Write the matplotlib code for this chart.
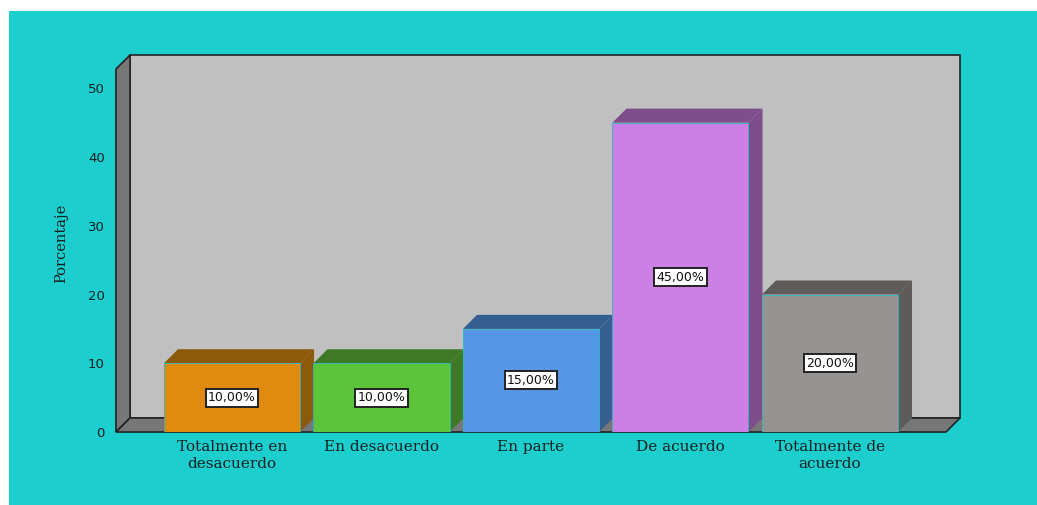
import matplotlib.pyplot as plt
from matplotlib.patches import Polygon, Rectangle

# datos
categorias = ['Totalmente en\ndesacuerdo', 'En desacuerdo', 'En parte',
              'De acuerdo', 'Totalmente de\nacuerdo']
porcentajes = [10, 10, 15, 45, 20]
etiquetas = ['10,00%', '10,00%', '15,00%', '45,00%', '20,00%']
colores = ['#e08a10', '#5cc43a', '#5596e6', '#cc80e6', '#979390']
colores_osc = ['#8c5a0a', '#3e7a25', '#355f90', '#7e4e8c', '#5e5c5a']
yticks = [0, 10, 20, 30, 40, 50]

fondo = '#1ccece'
ancho = 0.91
dx, dy = 0.094, 2.04          # profundidad 3D en unidades de datos
x0, x1 = -0.776, 4.776        # bordes frontales de la pared
ytop = 52.8

fig = plt.figure(figsize=(10.37, 5.05), dpi=100)
fig.patch.set_facecolor('white')
fig.patches.append(Rectangle((9 / 1037, 0), 1, (505 - 11) / 505,
                             transform=fig.transFigure, facecolor=fondo,
                             edgecolor='none', zorder=-5))

ax = fig.add_axes([116 / 1037, (505 - 432) / 505, 844 / 1037, 377 / 505])
ax.set_zorder(1)
ax.set_xlim(x0, x1 + dx)
ax.set_ylim(0, ytop + dy)
ax.patch.set_visible(False)
for s in ax.spines.values():
    s.set_visible(False)

# paredes
ax.add_patch(Rectangle((x0 + dx, dy), x1 - x0, ytop, facecolor='#c0c0c0',
                       edgecolor='#222222', lw=1.2, zorder=1, clip_on=False))
ax.add_patch(Polygon([(x0, 0), (x0, ytop), (x0 + dx, ytop + dy), (x0 + dx, dy)],
                     facecolor='#777777', edgecolor='#222222', lw=1.2, zorder=1,
                     clip_on=False))
ax.add_patch(Polygon([(x0, 0), (x1, 0), (x1 + dx, dy), (x0 + dx, dy)],
                     facecolor='#777777', edgecolor='#222222', lw=1.2, zorder=1,
                     clip_on=False))

# barras 3D
for i, (h, c, co, lab) in enumerate(zip(porcentajes, colores, colores_osc, etiquetas)):
    xl, xr = i - ancho / 2, i + ancho / 2
    z = 2 + i
    ax.add_patch(Polygon([(xr, 0), (xr, h), (xr + dx, h + dy), (xr + dx, dy)],
                         facecolor=co, edgecolor='none', zorder=z))
    ax.add_patch(Polygon([(xl, h), (xr, h), (xr + dx, h + dy), (xl + dx, h + dy)],
                         facecolor=co, edgecolor='none', zorder=z))
    ax.bar(i, h, width=ancho, color=c, edgecolor='#2ab8c0', lw=0.6, zorder=z + 0.1)
    ax.text(i, h / 2, lab, ha='center', va='center', fontsize=9,
            family='DejaVu Sans', color='#111111', zorder=20,
            bbox=dict(boxstyle='square,pad=0.2', facecolor='white',
                      edgecolor='#222222', lw=1.4))

ax.set_xticks(range(len(categorias)))
ax.set_xticklabels(categorias, family='DejaVu Serif', fontsize=11,
                   color='#102020', linespacing=1.25)
ax.set_yticks(yticks)
ax.set_yticklabels([str(v) for v in yticks], family='DejaVu Sans',
                   fontsize=9.5, color='#102020')
ax.tick_params(length=0, pad=8)
ax.tick_params(axis='x', pad=6)
ax.set_ylabel('Porcentaje', family='DejaVu Serif', fontsize=10.5,
              color='#102020', labelpad=14)

fig.savefig('out.png', dpi=100, facecolor=fig.get_facecolor())
